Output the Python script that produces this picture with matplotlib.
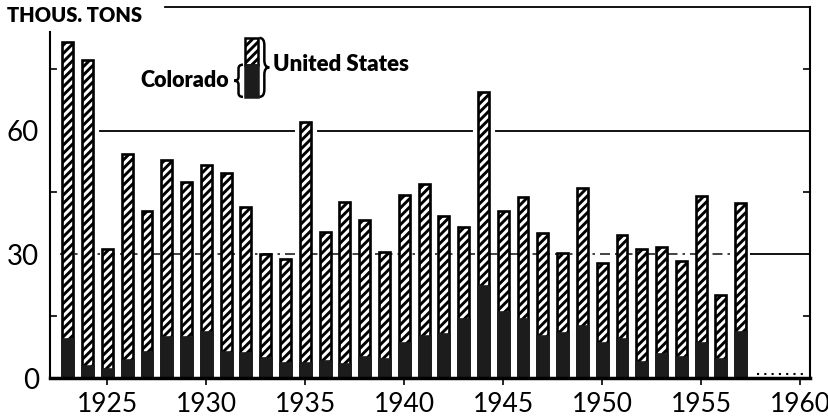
import numpy as np
import matplotlib.pyplot as plt
from matplotlib.path import Path
from matplotlib.patches import PathPatch, Rectangle

plt.rcParams['font.family'] = ['Lato', 'DejaVu Sans']
plt.rcParams['hatch.linewidth'] = 2.1

## uranium ore production, thousand tons
years = list(range(1923, 1958))
us_total = [81.6, 77.2, 31.3, 54.4, 40.5, 52.9, 47.6, 51.6, 49.8, 41.4,
            30.0, 28.8, 62.0, 35.5, 42.6, 38.3, 30.6, 44.5, 47.0, 39.4,
            36.6, 69.5, 40.6, 43.9, 35.1, 30.3, 46.2, 28.0, 34.8, 31.2,
            31.7, 28.4, 44.1, 20.1, 42.4]
colorado = [9.5, 3.0, 2.2, 4.3, 6.3, 9.9, 9.9, 11.2, 6.3, 6.1,
            4.9, 3.7, 3.7, 4.1, 3.3, 5.1, 4.5, 8.5, 10.3, 10.6,
            14.2, 22.2, 15.9, 14.2, 10.2, 10.8, 12.6, 8.4, 9.4, 3.8,
            5.8, 5.2, 8.6, 4.6, 11.2]
year_ticks = list(range(1925, 1961, 5))
value_ticks = [0, 30, 60]

dark = '#1c1c1c'
w = 0.55


def brace(ax, x0, y0, y1, width, facing):
    'curly brace from y0 to y1, tip pointing right (facing=1) or left (-1)'
    ym = (y0 + y1) / 2
    r = (y1 - y0) * 0.12
    xm = x0 + facing * width / 2
    xt = x0 + facing * width
    verts = [(x0, y1), (xm, y1), (xm, y1 - r),
             (xm, ym + r), (xm, ym), (xt, ym),
             (xm, ym), (xm, ym - r),
             (xm, y0 + r), (xm, y0), (x0, y0)]
    codes = [Path.MOVETO, Path.CURVE3, Path.CURVE3, Path.LINETO,
             Path.CURVE3, Path.CURVE3, Path.CURVE3, Path.CURVE3,
             Path.LINETO, Path.CURVE3, Path.CURVE3]
    ax.add_patch(PathPatch(Path(verts, codes), fill=False, lw=1.8,
                           edgecolor='black', clip_on=False, zorder=6))


fig = plt.figure(figsize=(8.29, 4.19), dpi=100)
ax = fig.add_axes([50/829, 41/419, 760/829, 371/419])
ax.set_xlim(1922.1, 1960.5)
ax.set_ylim(0, 90)

# grid lines (60 line sits under the white halo so it breaks at tall bars)
ax.plot([1927.9, 1960.5], [90, 90], color='black', lw=1.3, clip_on=False, zorder=1)
ax.plot([1924.3, 1960.5], [60, 60], color='black', lw=1.3, zorder=1)
ax.plot([1922.6, 1957.5], [30, 30], color='#222222', lw=1.2,
        ls=(0, (6, 3, 1.5, 3)), zorder=2.5)
ax.plot([1957.5, 1960.5], [30, 30], color='black', lw=1.3, zorder=2.5)

# bars: white halo, hatched US total, solid Colorado part
ax.bar(years, us_total, width=w, color='white', edgecolor='white', lw=8, zorder=2)
ax.bar(years, us_total, width=w, color='white', edgecolor='black',
       hatch='////', lw=1.9, zorder=3)
ax.bar(years, colorado, width=w, color=dark, edgecolor=dark, lw=1.9, zorder=4)

# dotted tail after 1957
ax.plot([1957.8, 1960.3], [0.9, 0.9], color='black', lw=1.5,
        ls=(0, (1, 2.5)), zorder=5)

# axes
ax.spines['top'].set_visible(False)
ax.spines['left'].set_bounds(0, 84)
ax.spines['left'].set_linewidth(1.5)
ax.spines['right'].set_linewidth(1.5)
ax.spines['bottom'].set_linewidth(2.5)
ax.spines['bottom'].set_zorder(5)

ax.set_yticks(value_ticks)
ax.set_yticklabels([str(v) for v in value_ticks], fontsize=20)
ax.set_yticks([15, 45, 75], minor=True)
ax.tick_params(axis='y', which='major', length=0, pad=8)
ax.tick_params(axis='y', which='minor', direction='in', length=5, width=1.2,
               left=True, right=True)

ax.set_xticks(year_ticks)
ax.set_xticklabels([str(y) for y in year_ticks], fontsize=19)
ax.tick_params(axis='x', direction='out', length=5, width=1.2, pad=5)

fig.text(7/829, 1 - 15/419, 'THOUS. TONS', fontsize=14.5, fontweight='heavy',
         va='center', ha='left')

# legend sample bar with braces
ax.add_patch(Rectangle((1931.97, 76.0), 0.66, 6.5, facecolor='white',
                       edgecolor='black', hatch='////', lw=1.8, zorder=5))
ax.add_patch(Rectangle((1931.97, 68.2), 0.66, 7.8, facecolor=dark,
                       edgecolor=dark, lw=1.8, zorder=5))
brace(ax, 1932.68, 68.2, 82.5, 0.5, 1)
brace(ax, 1931.85, 68.2, 76.0, 0.45, -1)
ax.text(1933.35, 76.0, 'United States', fontsize=16, fontweight='heavy',
        va='center', ha='left')
ax.text(1931.15, 72.1, 'Colorado', fontsize=15.5, fontweight='heavy',
        va='center', ha='right')

plt.savefig('out.png', dpi=100)
